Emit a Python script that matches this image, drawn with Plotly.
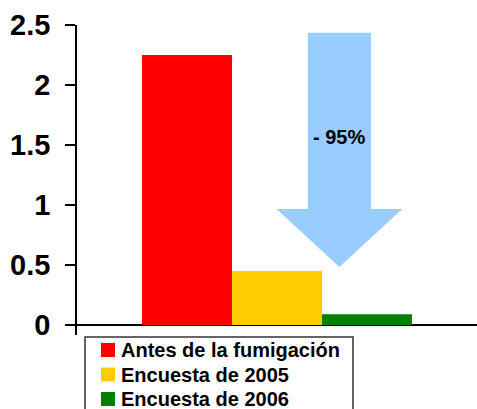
import plotly.graph_objects as go

# ---- data ----
series_names = ["Antes de la fumigación", "Encuesta de 2005", "Encuesta de 2006"]
series_values = [2.25, 0.45, 0.09]
series_colors = ["#FF0000", "#FFCC00", "#008000"]
category = [""]
y_tick_vals = [0, 0.5, 1, 1.5, 2, 2.5]
y_tick_text = ["0", "0.5", "1", "1.5", "2", "2.5"]
arrow_label = "- 95%"

FONT = "Liberation Sans, Arial, sans-serif"

# layout geometry (figure pixels = page pixels; body margin removed)
FIG_W, FIG_H = 477, 409
M_L, M_R, M_T, M_B = 77, 0, 25, 74
PLOT_W = FIG_W - M_L - M_R
PLOT_H = FIG_H - M_T - M_B


def px_x(x):
    return (x - M_L) / PLOT_W


def px_y(y):
    return (FIG_H - M_B - y) / PLOT_H


fig = go.Figure()
for name, val, col in zip(series_names, series_values, series_colors):
    fig.add_trace(go.Bar(x=category, y=[val], name=name, showlegend=False,
                         marker=dict(color=col, line=dict(width=0))))

# arrow geometry (paper x, data y)
ax_l, ax_r = 0.577, 0.735
hx_l, hx_r, tip_x = 0.499, 0.813, 0.656
y_top, y_neck, y_tip = 2.436, 0.967, 0.483
path = (f"M {ax_l} {y_top} L {ax_r} {y_top} L {ax_r} {y_neck} L {hx_r} {y_neck} "
        f"L {tip_x} {y_tip} L {hx_l} {y_neck} L {ax_l} {y_neck} Z")
fig.add_shape(type="path", path=path, xref="paper", yref="y",
              fillcolor="#99CCFF", line=dict(width=0), layer="above")
fig.add_annotation(x=tip_x, y=1.567, xref="paper", yref="y", text=arrow_label,
                   showarrow=False, font=dict(family=FONT, size=20, color="black", weight="bold"))

# legend box (drawn manually so row spacing matches)
LEG_X0, LEG_X1, LEG_Y0, LEG_Y1 = 85, 353, 337, 440
fig.add_shape(type="rect", xref="paper", yref="paper",
              x0=px_x(LEG_X0), x1=px_x(LEG_X1), y0=px_y(LEG_Y0), y1=px_y(LEG_Y1),
              line=dict(color="#333333", width=1.5), fillcolor="white")
ROW0, ROW_STEP, SW_X, SW = 350, 24.5, 101, 14
for i, (name, col) in enumerate(zip(series_names, series_colors)):
    cy = ROW0 + i * ROW_STEP
    fig.add_shape(type="rect", xref="paper", yref="paper",
                  x0=px_x(SW_X), x1=px_x(SW_X + SW), y0=px_y(cy - SW / 2), y1=px_y(cy + SW / 2),
                  line=dict(width=0), fillcolor=col)
    fig.add_annotation(x=px_x(SW_X + SW + 4), y=px_y(cy), xref="paper", yref="paper",
                       xanchor="left", yanchor="middle", text=name, showarrow=False,
                       font=dict(family=FONT, size=20, color="black", weight="bold"))

fig.update_layout(
    width=FIG_W, height=FIG_H,
    margin=dict(l=M_L, r=M_R, t=M_T, b=M_B, autoexpand=False),
    paper_bgcolor="white", plot_bgcolor="white",
    barmode="group", bargap=0.325, bargroupgap=0,
    showlegend=False,
    xaxis=dict(showline=False, showticklabels=False, ticks="", showgrid=False, zeroline=False),
    yaxis=dict(range=[-10 / 120, 2.5], tickvals=y_tick_vals, ticktext=y_tick_text,
               showline=True, linecolor="black", linewidth=1.5,
               ticks="outside", ticklen=10, tickwidth=1.5, tickcolor="black",
               ticklabelstandoff=9,
               showgrid=False, zeroline=True, zerolinecolor="black", zerolinewidth=1.5,
               tickfont=dict(family=FONT, size=29, color="black", weight="bold")),
)

fig.write_html("out.html", config={"displayModeBar": False},
               post_script="document.body.style.margin='0';document.body.style.overflow='hidden';")
